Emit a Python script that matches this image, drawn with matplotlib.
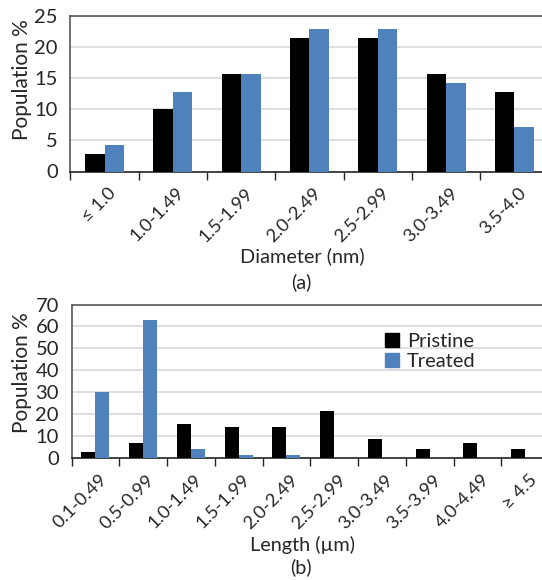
import numpy as np
import matplotlib
matplotlib.use("Agg")
import matplotlib.pyplot as plt
import matplotlib.transforms as mtransforms
from matplotlib.patches import Patch

plt.rcParams['font.family'] = ['Lato', 'DejaVu Sans']

# (a) diameter distribution
diam_bins = ["≤ 1.0", "1.0-1.49", "1.5-1.99", "2.0-2.49", "2.5-2.99", "3.0-3.49", "3.5-4.0"]
diam_pristine = [2.86, 10.0, 15.71, 21.43, 21.43, 15.71, 12.86]
diam_treated = [4.29, 12.86, 15.71, 22.86, 22.86, 14.29, 7.14]

# (b) length distribution
len_bins = ["0.1-0.49", "0.5-0.99", "1.0-1.49", "1.5-1.99", "2.0-2.49",
            "2.5-2.99", "3.0-3.49", "3.5-3.99", "4.0-4.49", "≥ 4.5"]
len_pristine = [2.86, 7.14, 15.71, 14.29, 14.29, 21.43, 8.57, 4.29, 7.14, 4.29]
len_treated = [30.0, 62.86, 4.29, 1.43, 1.43, 0, 0, 0, 0, 0]

BLACK = "#000000"
BLUE = "#4F81BD"
GRID = "#d9d9d9"
SPINE = "#595959"
TXT = "#262626"
W, H = 542, 580

fig = plt.figure(figsize=(W / 100, H / 100), dpi=100)


def draw_panel(rect, labels, pristine, treated, ymax, ystep, bar_w):
    ax = fig.add_axes(rect)
    x = np.arange(len(labels))
    ax.bar(x - bar_w / 2, pristine, bar_w, color=BLACK, zorder=3)
    ax.bar(x + bar_w / 2, treated, bar_w, color=BLUE, zorder=3)
    ax.set_xlim(-0.5, len(labels) - 0.5)
    ax.set_ylim(0, ymax)
    ax.set_yticks(np.arange(0, ymax + 1, ystep))
    ax.yaxis.grid(True, color=GRID, lw=1.2, zorder=0)
    ax.tick_params(axis='y', length=0, pad=9, labelsize=14.5, colors=TXT)
    # category boundary ticks on the x axis
    ax.set_xticks(np.arange(len(labels) + 1) - 0.5)
    ax.set_xticklabels([])
    ax.tick_params(axis='x', which='major', length=6, width=1, direction='out', color=TXT)
    ax.set_xticks(x, minor=True)
    ax.set_xticklabels(labels, minor=True, rotation=45, ha='right', va='center',
                       rotation_mode='anchor', fontsize=13.2, color=TXT)
    ax.tick_params(axis='x', which='minor', length=0, pad=0)
    offset = mtransforms.ScaledTranslation(9 / 100, -19 / 100, fig.dpi_scale_trans)
    for lbl in ax.get_xticklabels(minor=True):
        lbl.set_transform(lbl.get_transform() + offset)
    for side in ['left', 'top', 'right']:
        ax.spines[side].set_color(SPINE)
        ax.spines[side].set_linewidth(1.2)
    ax.spines['bottom'].set_color(TXT)
    ax.spines['bottom'].set_linewidth(1.2)
    return ax


ax1 = draw_panel([70.5 / W, 1 - 171.5 / H, 478 / W, 155.5 / H],
                 diam_bins, diam_pristine, diam_treated, 25, 5, 0.285)
ax2 = draw_panel([71.5 / W, 1 - 458.3 / H, 477.5 / W, 153.8 / H],
                 len_bins, len_pristine, len_treated, 70, 10, 0.293)

fig.text(22 / W, 1 - 80 / H, "Population %", rotation=90, ha='center', va='center',
         fontsize=15, color=TXT)
fig.text(22 / W, 1 - 373 / H, "Population %", rotation=90, ha='center', va='center',
         fontsize=15, color=TXT)
fig.text(302 / W, 1 - 256 / H, "Diameter (nm)", ha='center', va='center', fontsize=14.3, color=TXT)
fig.text(301 / W, 1 - 282 / H, "(a)", ha='center', va='center', fontsize=14.3, color=TXT)
fig.text(302 / W, 1 - 545 / H, "Length (µm)", ha='center', va='center', fontsize=14.3, color=TXT)
fig.text(301 / W, 1 - 567 / H, "(b)", ha='center', va='center', fontsize=14.3, color=TXT)

handles = [Patch(color=BLACK, label="Pristine"), Patch(color=BLUE, label="Treated")]
ax2.legend(handles=handles, loc='upper left', bbox_to_anchor=(375 / W, 1 - 323 / H),
           bbox_transform=fig.transFigure, frameon=False, fontsize=14.5,
           handlelength=0.7, handleheight=0.7, handletextpad=0.4,
           labelspacing=0.15, borderpad=0, labelcolor=TXT)

fig.savefig("out.png", dpi=100)
